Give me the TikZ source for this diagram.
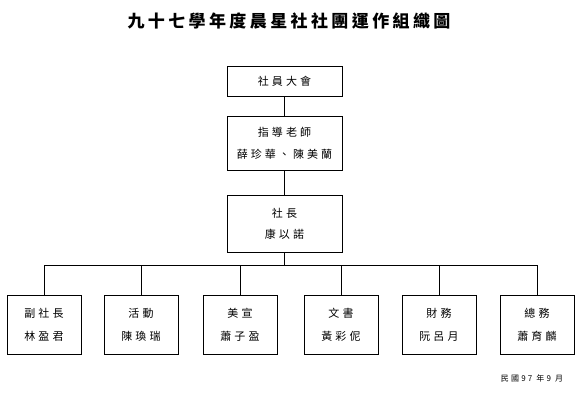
\documentclass[tikz,border=0pt]{standalone}
\usepackage{fontspec}
\newfontfamily\cjk[LetterSpace=28]{Noto Sans CJK TC}
\newfontfamily\cjktitle[LetterSpace=20]{Noto Sans CJK TC}
\usepackage{tikz}

\begin{document}
\begin{tikzpicture}[x=1pt, y=-1pt,
    box/.style={draw, line width=0.9pt, align=center, inner sep=0pt,
      font=\cjk\fontsize{11}{13}\selectfont},
    topbox/.style={box, minimum width=115pt},
    subbox/.style={box, minimum width=74pt, minimum height=59pt},
    link/.style={line width=0.9pt}]
  \useasboundingbox (0,0) rectangle (587,401);
  % Title
  \node[font=\cjktitle\bfseries\fontsize{17}{20}\selectfont] (title) at (289,21) {九十七學年度晨星社社團運作組織圖};
  % Top chain
  \node[topbox, minimum height=30pt] (assembly) at (284.5,81) {社員大會};
  \node[topbox, minimum height=54pt] (advisor) at (284.5,143) {指導老師\\[9pt]薛珍華、陳美蘭};
  \node[topbox, minimum height=57pt] (president) at (284.5,223.5) {社長\\[8pt]康以諾};
  \draw[link] (assembly.south) -- (advisor.north);
  \draw[link] (advisor.south) -- (president.north);
  % Officers
  \node[subbox] (vice) at (44,324.5) {副社長\\[10pt]林盈君};
  \node[subbox] (event) at (141,324.5) {活動\\[10pt]陳瑍瑞};
  \node[subbox] (art) at (240,324.5) {美宣\\[10pt]蕭子盈};
  \node[subbox] (clerk) at (341,324.5) {文書\\[10pt]黃彩伲};
  \node[subbox] (finance) at (439,324.5) {財務\\[10pt]阮呂月};
  \node[subbox] (general) at (537,324.5) {總務\\[10pt]蕭育麟};
  % Bus line
  \coordinate (bus) at (284.5,265);
  \draw[link] (president.south) -- (bus);
  \draw[link] (vice.north |- bus) -- (general.north |- bus);
  \foreach \n in {vice,event,art,clerk,finance,general}
    \draw[link] (\n.north |- bus) -- (\n.north);
  % Date
  \node[font=\cjk\fontsize{8}{10}\selectfont] (date) at (532,378) {民國97 年9 月};
\end{tikzpicture}
\end{document}
